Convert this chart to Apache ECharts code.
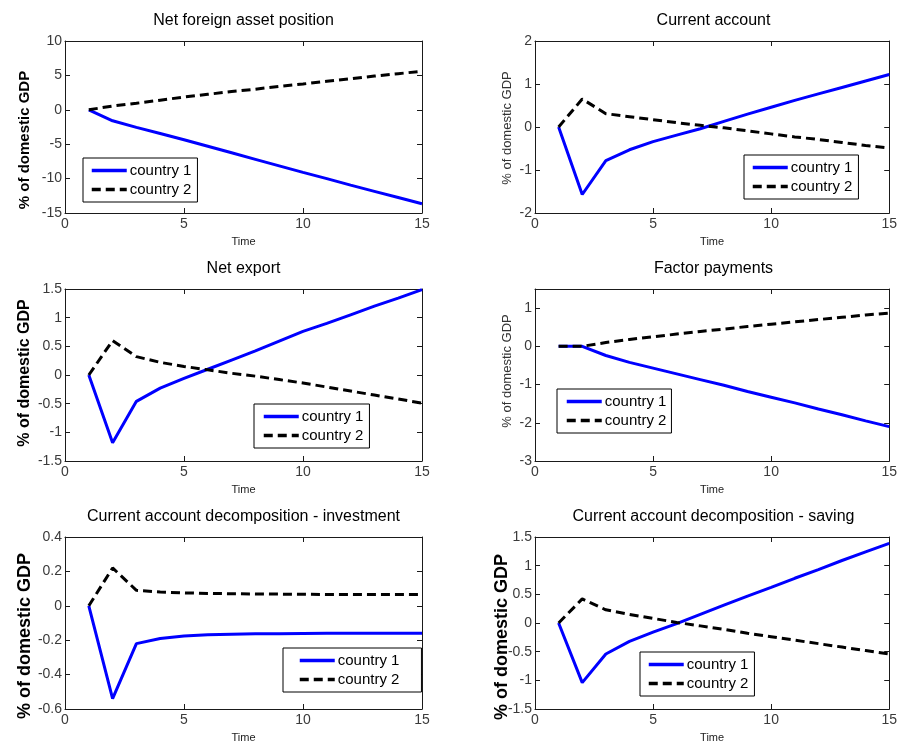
<!DOCTYPE html>
<html>
<head>
<meta charset="utf-8">
<title>Impulse responses</title>
<script src="https://cdn.jsdelivr.net/npm/echarts@6/dist/echarts.min.js"></script>
<style>
  html, body { margin: 0; padding: 0; background: #ffffff; }
  #chart { width: 900px; height: 745px; }
</style>
</head>
<body>
<div id="chart"></div>
<script>
// ---- values -------------------------------------------------------------
const timeSteps = [1, 2, 3, 4, 5, 6, 7, 8, 9, 10, 11, 12, 13, 14, 15];
const seriesNames = ['country 1', 'country 2'];
const panelTitles = [
  'Net foreign asset position',
  'Current account',
  'Net export',
  'Factor payments',
  'Current account decomposition - investment',
  'Current account decomposition - saving'
];
const yAxisTitle = '% of domestic GDP';
const xAxisTitle = 'Time';

// x axis range and tick step
const xRange = [0, 15];
const xStep = 5;
// y axis ranges and tick steps, one per panel
const yMins = [-15, -2, -1.5, -3, -0.6, -1.5];
const yMaxs = [10, 2, 1.5, 1.5, 0.4, 1.5];
const ySteps = [5, 1, 0.5, 1, 0.2, 0.5];

const nfaCountry1 = [0, -1.6, -2.55, -3.45, -4.35, -5.3, -6.25, -7.2, -8.15, -9.1, -10.0, -10.95, -11.85, -12.75, -13.65];
const nfaCountry2 = [0, 0.55, 0.95, 1.4, 1.85, 2.25, 2.65, 3.0, 3.4, 3.75, 4.15, 4.5, 4.9, 5.25, 5.6];

const caCountry1 = [0, -1.57, -0.78, -0.53, -0.34, -0.19, -0.04, 0.13, 0.30, 0.46, 0.62, 0.77, 0.92, 1.07, 1.22];
const caCountry2 = [0, 0.65, 0.31, 0.24, 0.17, 0.10, 0.04, -0.02, -0.09, -0.16, -0.23, -0.29, -0.36, -0.43, -0.49];

const nxCountry1 = [0, -1.18, -0.46, -0.23, -0.06, 0.10, 0.26, 0.42, 0.59, 0.76, 0.90, 1.05, 1.20, 1.34, 1.49];
const nxCountry2 = [0, 0.60, 0.32, 0.22, 0.15, 0.09, 0.03, -0.02, -0.08, -0.14, -0.21, -0.28, -0.35, -0.42, -0.49];

const fpCountry1 = [0, 0, -0.24, -0.42, -0.57, -0.72, -0.87, -1.02, -1.18, -1.33, -1.48, -1.64, -1.79, -1.95, -2.10];
const fpCountry2 = [0, 0, 0.10, 0.18, 0.25, 0.32, 0.39, 0.45, 0.52, 0.58, 0.64, 0.70, 0.76, 0.82, 0.87];

const invCountry1 = [0, -0.54, -0.22, -0.19, -0.175, -0.168, -0.165, -0.163, -0.162, -0.161, -0.16, -0.16, -0.16, -0.16, -0.16];
const invCountry2 = [0, 0.22, 0.09, 0.08, 0.075, 0.072, 0.070, 0.069, 0.068, 0.067, 0.066, 0.066, 0.065, 0.065, 0.065];

const savCountry1 = [0, -1.04, -0.54, -0.32, -0.16, -0.01, 0.15, 0.31, 0.47, 0.62, 0.78, 0.93, 1.09, 1.24, 1.39];
const savCountry2 = [0, 0.42, 0.23, 0.15, 0.08, 0.01, -0.05, -0.11, -0.18, -0.24, -0.30, -0.36, -0.42, -0.48, -0.54];

const panelValues = [
  [nfaCountry1, nfaCountry2],
  [caCountry1, caCountry2],
  [nxCountry1, nxCountry2],
  [fpCountry1, fpCountry2],
  [invCountry1, invCountry2],
  [savCountry1, savCountry2]
];

// ---- layout -------------------------------------------------------------
const PLOT_W = 357, PLOT_H = 172;
const plotBoxes = [
  { left: 65,  top: 41 },
  { left: 535, top: 41 },
  { left: 65,  top: 289 },
  { left: 535, top: 289 },
  { left: 65,  top: 537 },
  { left: 535, top: 537 }
];
const legendSpots = [
  { left: 83,  top: 158, padding: [5, 6, 5, 7] },
  { left: 744, top: 155, padding: [5, 6, 5, 7] },
  { left: 254, top: 404, padding: [5, 6, 5, 8] },
  { left: 557, top: 389, padding: [5, 5, 5, 8] },
  { left: 283, top: 648, padding: [5, 22, 5, 15] },
  { left: 640, top: 652, padding: [5, 6, 5, 7] }
];
const yTitleSpots = [
  { x: 25,  y: 140, size: 15, weight: 'bold',   color: '#000' },
  { x: 507, y: 128, size: 13, weight: 'normal', color: '#333' },
  { x: 25,  y: 373, size: 16, weight: 'bold',   color: '#000' },
  { x: 507, y: 371, size: 13, weight: 'normal', color: '#333' },
  { x: 25,  y: 636, size: 18, weight: 'bold',   color: '#000' },
  { x: 502, y: 637, size: 18, weight: 'bold',   color: '#000' }
];

const FONT = 'Liberation Sans, Arial, Helvetica, sans-serif';
const FRAME = '#1a1a1a';
const lineStyles = [
  { color: '#0000ff', width: 3, type: 'solid' },
  { color: '#000000', width: 3, type: [9, 5] }
];

const option = {
  animation: false,
  backgroundColor: '#ffffff',
  title: [],
  grid: [],
  xAxis: [],
  yAxis: [],
  legend: [],
  series: [],
  graphic: []
};

plotBoxes.forEach((box, i) => {
  option.grid.push({ left: box.left, top: box.top, width: PLOT_W, height: PLOT_H, show: false, containLabel: false });

  option.title.push({
    text: panelTitles[i],
    left: box.left + PLOT_W / 2,
    top: box.top - 28,
    textAlign: 'center',
    padding: 0,
    textStyle: { fontFamily: FONT, fontSize: 16, fontWeight: 'normal', color: '#000' }
  });

  const tickStyle = { show: true, inside: true, length: 5, lineStyle: { color: FRAME, width: 1 } };
  const lineFrame = { show: true, onZero: false, lineStyle: { color: FRAME, width: 1 } };

  // bottom and top x axes
  option.xAxis.push({
    type: 'value', gridIndex: i, position: 'bottom',
    min: xRange[0], max: xRange[1], interval: xStep,
    axisLine: lineFrame, axisTick: tickStyle, splitLine: { show: false },
    axisLabel: { show: true, margin: 4, fontFamily: FONT, fontSize: 14, color: '#3a3a3a' },
    name: xAxisTitle, nameLocation: 'middle', nameGap: 23,
    nameTextStyle: { fontFamily: 'Liberation Sans Narrow, Arial Narrow, ' + FONT, fontSize: 11, color: '#222' }
  });
  option.xAxis.push({
    type: 'value', gridIndex: i, position: 'top',
    min: xRange[0], max: xRange[1], interval: xStep,
    axisLine: lineFrame, axisTick: tickStyle, splitLine: { show: false },
    axisLabel: { show: false }
  });

  // left and right y axes
  option.yAxis.push({
    type: 'value', gridIndex: i, position: 'left',
    min: yMins[i], max: yMaxs[i], interval: ySteps[i],
    axisLine: lineFrame, axisTick: tickStyle, splitLine: { show: false },
    axisLabel: {
      show: true, margin: 3, fontFamily: FONT, fontSize: 14, color: '#3a3a3a',
      formatter: v => {
        const k = Math.round((v - yMins[i]) / ySteps[i]);
        if (Math.abs(yMins[i] + k * ySteps[i] - v) > 1e-9) return '';
        return String(+v.toFixed(4));
      }
    }
  });
  option.yAxis.push({
    type: 'value', gridIndex: i, position: 'right',
    min: yMins[i], max: yMaxs[i], interval: ySteps[i],
    axisLine: lineFrame, axisTick: tickStyle, splitLine: { show: false },
    axisLabel: { show: false }
  });

  panelValues[i].forEach((vals, s) => {
    option.series.push({
      name: seriesNames[s],
      type: 'line',
      xAxisIndex: 2 * i,
      yAxisIndex: 2 * i,
      data: timeSteps.map((t, k) => [t, vals[k]]),
      symbol: 'none',
      smooth: false,
      lineStyle: lineStyles[s],
      itemStyle: { color: lineStyles[s].color },
      z: s === 0 ? 3 : 4
    });
  });

  const spot = legendSpots[i];
  option.legend.push({
    data: seriesNames,
    orient: 'vertical',
    left: spot.left,
    top: spot.top,
    padding: spot.padding,
    itemGap: 4,
    itemWidth: 35,
    itemHeight: 14,
    selectedMode: false,
    backgroundColor: '#ffffff',
    borderColor: '#000000',
    borderWidth: 1,
    borderRadius: 0,
    // legend keys show only the line sample, no marker
    itemStyle: { opacity: 0 },
    lineStyle: { width: 3.5 },
    textStyle: { fontFamily: FONT, fontSize: 15, color: '#000', padding: [0, 0, 0, -2] }
  });

  const yt = yTitleSpots[i];
  option.graphic.push({
    type: 'text',
    x: yt.x,
    y: yt.y,
    rotation: Math.PI / 2,
    z: 10,
    style: {
      text: yAxisTitle,
      fill: yt.color,
      font: yt.weight + ' ' + yt.size + 'px ' + FONT,
      align: 'center',
      verticalAlign: 'middle',
      textAlign: 'center',
      textVerticalAlign: 'middle'
    }
  });
});

const chart = echarts.init(document.getElementById('chart'), null, { renderer: 'canvas' });
chart.setOption(option);
</script>
</body>
</html>
